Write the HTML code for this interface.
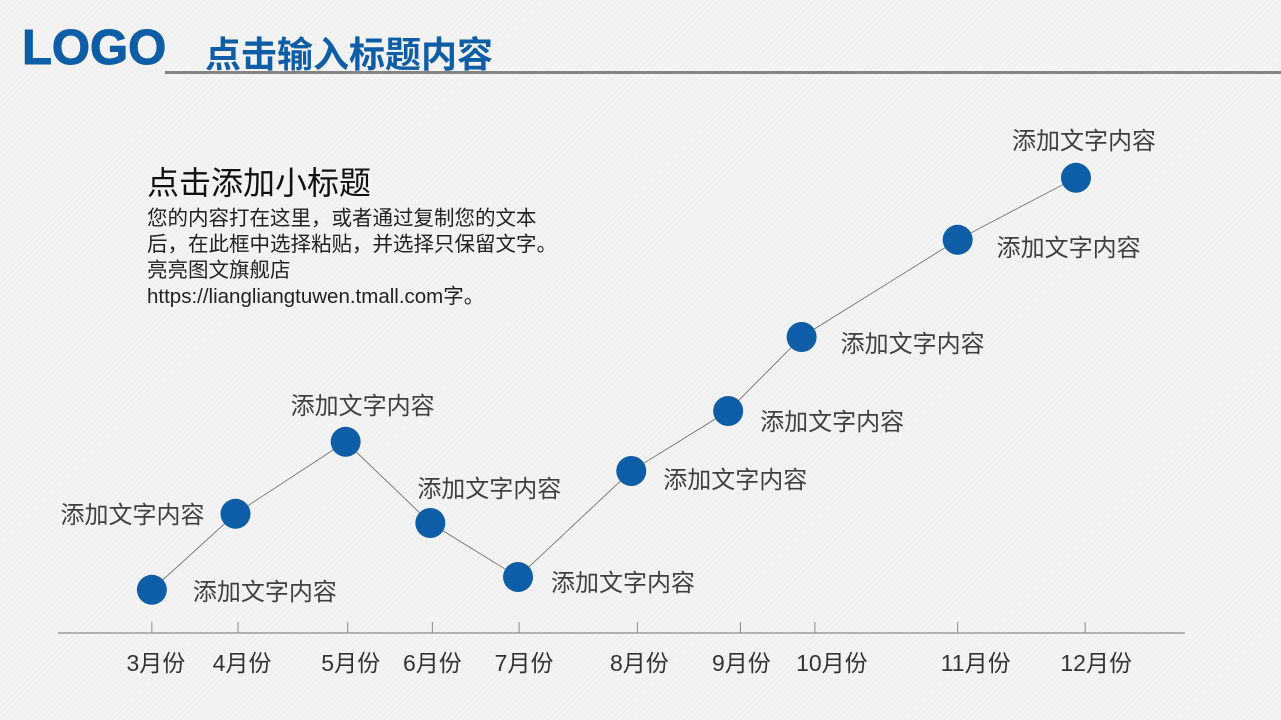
<!DOCTYPE html>
<html><head><meta charset="utf-8">
<style>
html,body{margin:0;padding:0;}
body{width:1281px;height:720px;overflow:hidden;position:relative;
background:#f3f3f3 repeating-linear-gradient(135deg,rgba(0,0,0,0.018) 0 1px,transparent 1px 4px);
font-family:"Liberation Sans","Noto Sans CJK SC",sans-serif;}
.abs{position:absolute;margin:0;white-space:nowrap;}
</style></head>
<body>
<div class="abs" style="left:22px;top:20px;font-size:49px;font-weight:900;color:#0d5ea6;-webkit-text-stroke:1px #0d5ea6;">LOGO</div>
<div class="abs" style="left:205px;top:26px;font-size:36px;font-weight:bold;color:#0d5ea6;">点击输入标题内容</div>
<div class="abs" style="left:165px;top:71px;width:1116px;height:3px;background:#858585;"></div>
<div class="abs" style="left:147px;top:158px;font-size:32px;color:#111;">点击添加小标题</div>
<div class="abs" style="left:147px;top:206px;font-size:20.5px;line-height:26px;color:#222;">您的内容打在这里，或者通过复制您的文本<br>后，在此框中选择粘贴，并选择只保留文字。<br>亮亮图文旗舰店<br>https://liangliangtuwen.tmall.com字。</div>
<svg id="chart" width="1281" height="720" style="position:absolute;left:0;top:0;"></svg>
<script>
const categories=["3月份","4月份","5月份","6月份","7月份","8月份","9月份","10月份","11月份","12月份"];
const tickPos=[9.3,17.75,28.5,36.8,45.3,56.9,67.0,74.3,88.3,100.8];
const pointPos=[9.3,17.5,28.3,36.6,45.2,56.3,65.8,73.0,88.3,99.9];
const values=[10.8,29.8,47.8,27.5,14.0,40.5,55.5,74.0,98.3,113.8];
const labels=["添加文字内容","添加文字内容","添加文字内容","添加文字内容","添加文字内容","添加文字内容","添加文字内容","添加文字内容","添加文字内容","添加文字内容"];
const tickLabelShift=[4,4,3,0,5,2,1,17,18,11];
const labelPlace=[[41,6,"start"],[-31,5,"end"],[17,-32,"middle"],[59,-30,"middle"],[33,10,"start"],[32,13,"start"],[32,15,"start"],[39,11,"start"],[39,12,"start"],[8,-33,"middle"]];
const NS="http://www.w3.org/2000/svg";
const svg=document.getElementById('chart');
const xS=v=>57+v*10.2;
const yS=v=>633-v*4;
function mk(t,a){const e=document.createElementNS(NS,t);for(const k in a)e.setAttribute(k,a[k]);svg.appendChild(e);return e;}
const ax=mk('line',{x1:58,y1:633,x2:1185,y2:633,stroke:'#8a8a8a','stroke-width':1.3});


categories.forEach((c,i)=>{
  const x=xS(tickPos[i]);
  const t=mk('line',{x1:x,y1:622,x2:x,y2:633,stroke:'#8a8a8a','stroke-width':1});
  
  
  const l=mk('text',{x:x+tickLabelShift[i],y:671,'text-anchor':'middle','font-size':23,fill:'#333','font-family':'"Liberation Sans","Noto Sans CJK SC",sans-serif'});
  l.textContent=c;
  
  
});
let d='';
values.forEach((v,i)=>{d+=(i?'L':'M')+xS(pointPos[i])+','+yS(v);});
const line=mk('path',{d:d,fill:'none',stroke:'#666','stroke-width':0.8});


values.forEach((v,i)=>{
  const x=xS(pointPos[i]),y=yS(v);
  const c=mk('circle',{cx:x,cy:y,r:15,fill:'#0d5ea6'});
  
  
  const p=labelPlace[i];
  const t=mk('text',{x:x+p[0],y:y+p[1]+4,'text-anchor':p[2],'font-size':24,fill:'#404040','font-family':'"Liberation Sans","Noto Sans CJK SC",sans-serif'});
  t.textContent=labels[i];
  
  
});
</script>
</body></html>
